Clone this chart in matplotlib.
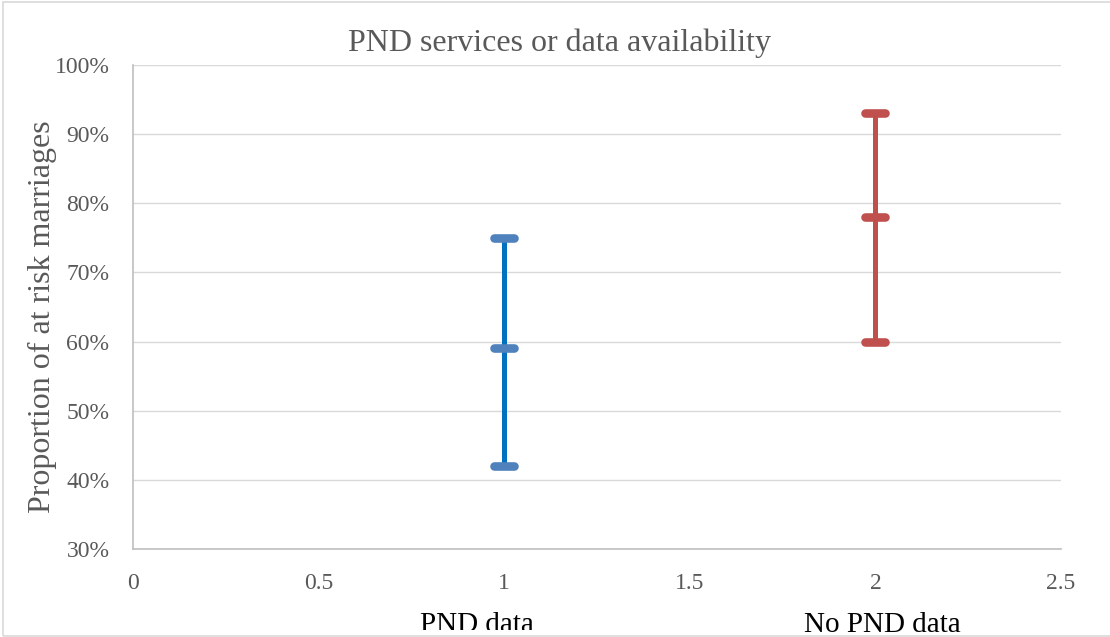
import matplotlib
matplotlib.use("Agg")
import matplotlib.pyplot as plt
from matplotlib.markers import MarkerStyle
from matplotlib.patches import Rectangle
from matplotlib.ticker import FuncFormatter, MultipleLocator
from matplotlib.transforms import Bbox

plt.rcParams['font.family'] = ['Liberation Serif', 'DejaVu Serif']

categories = ["PND data", "No PND data"]
x_pos = [1, 2]
high = [0.75, 0.93]
mid = [0.59, 0.78]
low = [0.42, 0.60]
line_colors = ["#0070C0", "#C0504D"]
cap_colors = ["#4F81BD", "#C0504D"]

W, H = 1110, 637
fig = plt.figure(figsize=(W / 100, H / 100), dpi=100)
ax = fig.add_axes([133 / W, 1 - 549 / H, (1061 - 133) / W, (549 - 65) / H])

ax.set_xlim(0, 2.5)
ax.set_ylim(0.30, 1.00)
ax.xaxis.set_major_locator(MultipleLocator(0.5))
ax.yaxis.set_major_locator(MultipleLocator(0.10))
ax.xaxis.set_major_formatter(FuncFormatter(lambda v, p: f"{v:g}"))
ax.yaxis.set_major_formatter(FuncFormatter(lambda v, p: f"{v*100:.0f}%"))

ax.grid(axis='y', color='#D9D9D9', linewidth=1.0, zorder=0)
ax.set_axisbelow(True)
for s in ['top', 'right']:
    ax.spines[s].set_visible(False)
for s in ['left', 'bottom']:
    ax.spines[s].set_color('#BFBFBF')
    ax.spines[s].set_linewidth(1.2)
ax.tick_params(axis='both', length=0, colors='#595959', labelsize=17)
ax.tick_params(axis='y', pad=17)
ax.tick_params(axis='x', pad=17)

cap_marker = MarkerStyle('_', capstyle='round')
for i in range(len(x_pos)):
    ax.vlines(x_pos[i], low[i], high[i], color=line_colors[i], linewidth=3.6, zorder=3)
    ax.plot([x_pos[i]] * 3, [high[i], mid[i], low[i]], linestyle='none',
            marker=cap_marker, markersize=14, markeredgewidth=6.2,
            color=cap_colors[i], zorder=4)

ax.set_ylabel("Proportion of at risk marriages", fontsize=23, color='#595959')
ax.yaxis.set_label_coords((42 - 133) / (1061 - 133), (549 - 317) / (549 - 65))
ax.yaxis.label.set_verticalalignment('center')

fig.text(559 / W, 1 - 51 / H, "PND services or data availability", fontsize=23,
         color='#595959', ha='center', va='baseline')

label_x = [477, 882]
label_base = [632, 632]
label_clip = [630, 637]
for i, c in enumerate(categories):
    t = fig.text(label_x[i] / W, 1 - label_base[i] / H, c, fontsize=21, color='black',
                 ha='center', va='baseline')
    t.set_clip_box(Bbox.from_extents(0, H - label_clip[i], W, H))
    t.set_clip_on(True)

border = Rectangle((3 / W, 1 - 635.5 / H), (W + 10) / W, (635.5 - 2) / H,
                   transform=fig.transFigure, fill=False, edgecolor='#D9D9D9',
                   linewidth=1.2, clip_on=False)
fig.patches.append(border)

fig.savefig("out.png", dpi=100)
